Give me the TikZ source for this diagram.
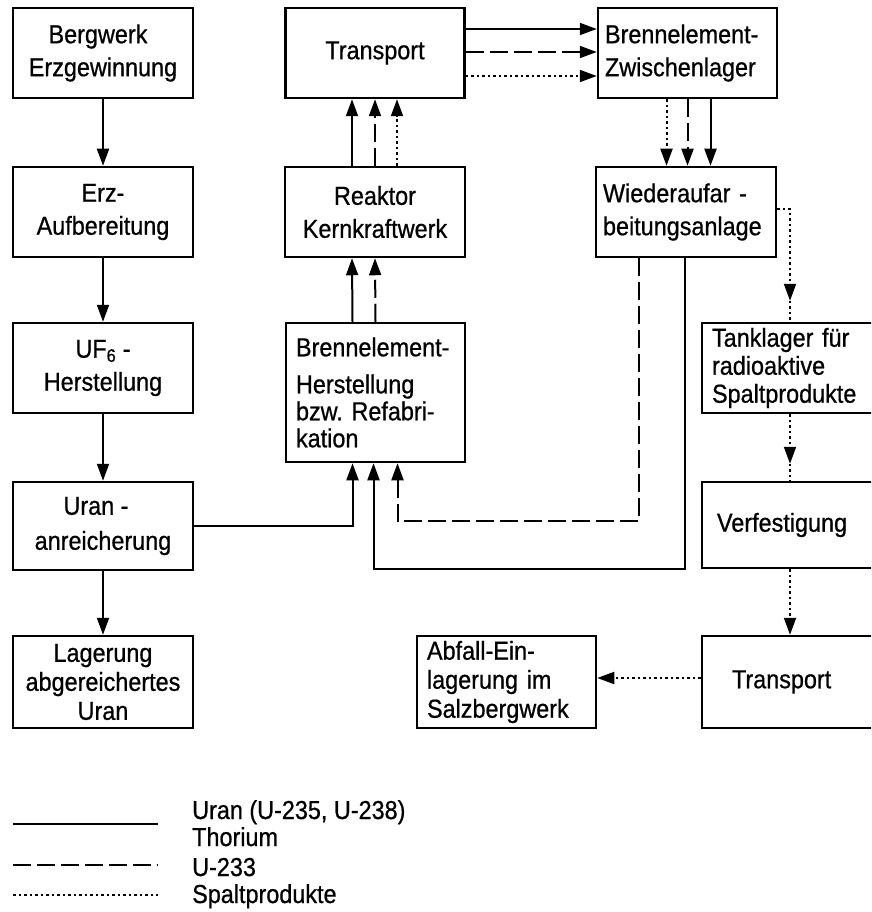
\documentclass[tikz,border=0pt]{standalone}
\usepackage{fontspec}
\setmainfont[FakeStretch=0.9,FakeBold=0.7]{Liberation Sans}
\usetikzlibrary{arrows.meta,calc,decorations.markings}
\newcommand{\fsz}[1]{\fontsize{26}{#1}\selectfont}
\tikzset{
  box/.style={draw, line width=2.5pt, inner sep=0pt, minimum height=90pt, minimum width=180pt, align=center, font=\fsz{33}},
  lbox/.style={box, align=left, inner xsep=10pt},
  con/.style={line width=2pt},
  tip/.style={-{Triangle[length=17pt,width=12pt]}},
  uran/.style={con},
  u233/.style={con, dash pattern=on 18pt off 6pt},
  spalt/.style={con, dash pattern=on 2.5pt off 3pt},
  midtip/.style={postaction={decorate, decoration={markings, mark=at position #1 with {\arrow{Triangle[length=17pt,width=12pt]}}}}},
  legtext/.style={anchor=base west, inner sep=0pt, font=\fsz{28}}
}
\begin{document}
\begin{tikzpicture}[x=1pt,y=-1pt]
\clip (0,0) rectangle (871,912);
\fill[white] (0,0) rectangle (871,912);
% column 1
\node[box] (berg) at (103,53) {\hspace*{-10pt}Bergwerk\\Erzgewinnung};
\node[box] (erz) at (103,212) {Erz-\\Aufbereitung};
\node[box] (uf6) at (103,368) {UF\textsubscript{6} -\\Herstellung};
\node[box, minimum height=88pt, font=\fsz{35}] (anr) at (103,526) {\hspace*{-14pt}Uran -\\anreicherung};
\node[box, minimum height=92pt, font=\fsz{29}] (lag) at (103,682) {Lagerung\\abgereichertes\\Uran};
% column 2
\node[box, minimum width=179pt] (trans) at (375,53) {Transport};
\node[box] (reak) at (375,212) {Reaktor\\Kernkraftwerk};
\node[lbox, minimum width=179pt, text width=159pt, minimum height=139pt, font=\fsz{27}] (bhe) at (375.5,392.5) {Brennelement-\\[10pt]Herstellung\\bzw.\ Refabri-\\kation};
% column 3
\node[lbox, minimum width=179pt, text width=165pt, inner xsep=5pt] (zw) at (687.5,53) {Brennelement-\\Zwischenlager};
\node[lbox, minimum width=180pt, text width=166pt, inner xsep=7pt] (wa) at (686,212) {Wiederaufar -\\beitungsanlage};
% column 4 (cut at the right edge)
\node[lbox, minimum width=198pt, text width=178pt, font=\fsz{28}] (tank) at (801,368) {Tanklager für\\radioaktive\\Spaltprodukte};
\node[box, minimum width=198pt, minimum height=86pt, align=left, text width=178pt, inner xsep=10pt] (verf) at (801,525) {\hspace*{5pt}Verfestigung};
\node[box, minimum width=198pt, minimum height=92pt, align=left, text width=178pt, inner xsep=10pt] (tr2) at (801,682) {\hspace*{20pt}Transport};
\node[lbox, minimum width=179pt, text width=159pt, minimum height=92pt, font=\fsz{29}] (abf) at (506.5,682) {Abfall-Ein-\\lagerung im\\Salzbergwerk};
% column 1 flow
\draw[uran,tip] (berg) -- (erz);
\draw[uran,tip] (erz) -- (uf6);
\draw[uran,tip] (uf6) -- (anr);
\draw[uran,tip] (anr) -- (lag);
% reactor to transport
\draw[uran,tip] ([xshift=-23pt]reak.north) -- ([xshift=-23pt]trans.south);
\draw[u233,tip] (reak.north) -- (trans.south);
\draw[spalt,tip] ([xshift=22pt]reak.north) -- ([xshift=22pt]trans.south);
% fabrication to reactor
\draw[uran,tip] ([xshift=-23pt]bhe.north) -- ([xshift=-23pt]reak.south);
\draw[u233,tip] (bhe.north) -- (reak.south);
% transport to interim storage
\draw[uran,tip] ([yshift=24pt]trans.east) -- ([yshift=24pt]zw.west);
\draw[u233,tip] ([yshift=1pt]trans.east) -- ([yshift=1pt]zw.west);
\draw[spalt,tip] ([yshift=-23pt]trans.east) -- ([yshift=-23pt]zw.west);
% interim storage to reprocessing
\draw[spalt,tip] ([xshift=-21pt]zw.south) -- ([xshift=-21pt]zw.south |- wa.north);
\draw[u233,tip] (zw.south) -- (zw.south |- wa.north);
\draw[uran,tip] ([xshift=23pt]zw.south) -- ([xshift=23pt]zw.south |- wa.north);
% reprocessing back to fabrication
\draw[u233,tip] ([xshift=-47pt]wa.south) -- ++(0,263) -| ([xshift=22pt]bhe.south);
\draw[uran,tip] ([xshift=-1pt]wa.south) -- ++(0,311) -| ([xshift=-2pt]bhe.south);
% enrichment to fabrication
\draw[uran,tip] (anr.east) -| ([xshift=-23pt]bhe.south);
% fission products path
\coordinate (wt) at (790,209);
\draw[spalt, midtip=-21pt] ([yshift=3pt]wa.east) -- (wt) -- (wt |- tank.north);
\draw[spalt, midtip=-17pt] (tank.south -| wt) -- (verf.north -| wt);
\draw[spalt,tip] (verf.south -| wt) -- (tr2.north -| wt);
\draw[spalt,tip] ([yshift=4pt]tr2.west) -- ([yshift=4pt]abf.east);
% legend
\coordinate (la1) at (13,824); \coordinate (lb1) at (158,824);
\coordinate (la2) at (13,865); \coordinate (lb2) at (158,865);
\coordinate (la3) at (13,895); \coordinate (lb3) at (158,895);
\draw[uran] (la1) -- (lb1);
\draw[u233] (la2) -- (lb2);
\draw[spalt] (la3) -- (lb3);
\node[legtext] (t1) at (192,819) {Uran (U-235, U-238)};
\node[legtext] (t1b) at (192,846) {Thorium};
\node[legtext] (t2) at (192,876) {U-233};
\node[legtext] (t3) at (192,903) {Spaltprodukte};
\end{tikzpicture}
\end{document}
